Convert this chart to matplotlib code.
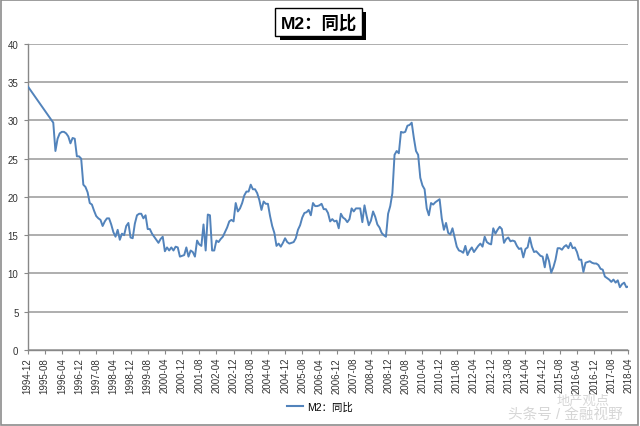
import numpy as np
import pandas as pd
import matplotlib
matplotlib.use('Agg')
import matplotlib.pyplot as plt
from matplotlib.patches import Rectangle
from matplotlib.lines import Line2D
import matplotlib.patheffects as pe

plt.rcParams['font.family'] = ['Liberation Sans', 'Noto Sans CJK SC', 'DejaVu Sans']

# 月份：1994-12 ~ 2018-04
months = pd.period_range('1994-12', '2018-04', freq='M').strftime('%Y-%m').tolist()

# M2 同比 (%)，1995-01 ~ 1995-11 无数据
m2_yoy = [
    34.5,                                                                    # 1994-12
    None, None, None, None, None, None, None, None, None, None, None, 29.7,  # 1995
    26.0, 27.6, 28.3, 28.5, 28.5, 28.3, 27.9, 27.0, 27.7, 27.6, 25.3, 25.3,  # 1996
    25.0, 21.6, 21.3, 20.6, 19.2, 19.0, 18.2, 17.5, 17.2, 17.0, 16.2, 16.8,  # 1997
    17.2, 17.2, 16.4, 15.4, 14.8, 15.7, 14.4, 15.2, 15.0, 16.2, 16.6, 14.7,  # 1998
    14.6, 16.5, 17.6, 17.8, 17.8, 17.2, 17.6, 15.8, 15.8, 15.2, 14.8, 14.4,  # 1999
    14.0, 14.5, 14.8, 12.9, 13.4, 13.0, 13.4, 13.0, 13.5, 13.4, 12.2, 12.3,  # 2000
    12.4, 13.4, 12.2, 13.0, 12.8, 12.2, 14.3, 13.8, 13.6, 16.4, 13.0, 17.7,  # 2001
    17.6, 13.0, 13.0, 14.3, 14.1, 14.5, 14.8, 15.4, 16.0, 16.8, 17.0, 16.8,  # 2002
    19.2, 18.1, 18.5, 19.2, 20.2, 20.7, 20.7, 21.6, 21.0, 21.0, 20.5, 19.6,  # 2003
    18.3, 19.4, 19.1, 19.1, 17.5, 16.2, 15.3, 13.6, 13.9, 13.5, 14.0, 14.6,  # 2004
    14.1, 13.9, 14.0, 14.1, 14.6, 15.7, 16.3, 17.3, 17.9, 18.0, 18.3, 17.6,  # 2005
    19.2, 18.8, 18.8, 18.9, 19.1, 18.4, 18.4, 17.9, 16.8, 17.1, 16.8, 16.9,  # 2006
    15.9, 17.8, 17.3, 17.1, 16.7, 17.1, 18.5, 18.1, 18.5, 18.5, 18.5, 16.7,  # 2007
    18.9, 17.5, 16.3, 16.9, 18.1, 17.4, 16.4, 16.0, 15.3, 15.0, 14.8, 17.8,  # 2008
    18.8, 20.5, 25.5, 26.0, 25.7, 28.5, 28.4, 28.5, 29.3, 29.4, 29.7, 27.7,  # 2009
    26.0, 25.5, 22.5, 21.5, 21.0, 18.5, 17.6, 19.2, 19.0, 19.3, 19.5, 19.7,  # 2010
    17.2, 15.7, 16.6, 15.3, 15.1, 15.9, 14.7, 13.5, 13.0, 12.9, 12.7, 13.6,  # 2011
    12.4, 13.0, 13.4, 12.8, 13.2, 13.6, 13.9, 13.5, 14.8, 14.1, 13.9, 13.8,  # 2012
    15.9, 15.2, 15.7, 16.1, 15.8, 14.0, 14.5, 14.7, 14.2, 14.3, 14.2, 13.6,  # 2013
    13.2, 13.3, 12.1, 13.2, 13.4, 14.7, 13.5, 12.8, 12.9, 12.6, 12.3, 12.2,  # 2014
    10.8, 12.5, 11.6, 10.1, 10.8, 11.8, 13.3, 13.3, 13.1, 13.5, 13.7, 13.3,  # 2015
    14.0, 13.3, 13.4, 12.8, 11.8, 11.8, 10.2, 11.4, 11.5, 11.6, 11.4, 11.3,  # 2016
    11.3, 11.1, 10.6, 10.5, 9.6, 9.4, 9.2, 8.9, 9.2, 8.8, 9.1, 8.2,          # 2017
    8.6, 8.8, 8.2, 8.3,                                                      # 2018
]

title = 'M2：同比'
series_name = 'M2：同比'
line_color = '#5283bb'
grid_color = '#a8a8a8'

x = np.arange(len(months))
y = np.array([np.nan if v is None else v for v in m2_yoy], dtype=float)
ok = ~np.isnan(y)

fig = plt.figure(figsize=(6.4, 4.27), dpi=100)
ax = fig.add_axes([0.043, 0.178, 0.939, 0.717])

ax.plot(x[ok], y[ok], color=line_color, lw=1.4, zorder=3)

ax.set_xlim(0, len(months) - 1)
ax.set_ylim(0, 40)
ax.set_yticks(range(0, 41, 5))
ax.yaxis.grid(True, color=grid_color, lw=1.3)
ax.set_axisbelow(True)

tick_pos = x[::8]
ax.set_xticks(tick_pos)
ax.set_xticklabels([months[i] for i in tick_pos], rotation=90, fontsize=7, color='#333333')
ax.tick_params(axis='y', labelsize=7, colors='#333333', length=3, color='#888888')
ax.tick_params(axis='x', length=3, color='#888888', pad=2)

for s in ['top', 'right']:
    ax.spines[s].set_visible(False)
for s in ['left', 'bottom']:
    ax.spines[s].set_color('#888888')
    ax.spines[s].set_linewidth(1.0)

# 标题框（带阴影）
t = fig.text(0.498, 0.947, title, ha='center', va='center', fontsize=12.5,
             fontweight='bold', color='black',
             bbox=dict(boxstyle='square,pad=0.3', fc='white', ec='black', lw=1))
t.get_bbox_patch().set_path_effects([
    pe.SimplePatchShadow(offset=(3, -3), shadow_rgbFace='black', alpha=1.0),
    pe.Normal(),
])

# 图例
handle = Line2D([], [], color=line_color, lw=1.5)
fig.legend([handle], [series_name], loc='center', bbox_to_anchor=(0.5, 0.045),
           frameon=False, fontsize=7.5, handlelength=1.6, handletextpad=0.4)

# 水印
fig.text(0.911, 0.061, '地产观点', ha='center', va='center', fontsize=9.5,
         color='#d6d6d6', zorder=0)
fig.text(0.883, 0.029, '头条号 / 金融视野', ha='center', va='center', fontsize=10.5,
         color='#d6d6d6', zorder=0)

# 外框
fig.patches.append(Rectangle((0.002, 0.003), 0.995, 0.994, transform=fig.transFigure,
                             fill=False, ec='#8c8c8c', lw=1.2))

fig.savefig('out.png', dpi=100)
